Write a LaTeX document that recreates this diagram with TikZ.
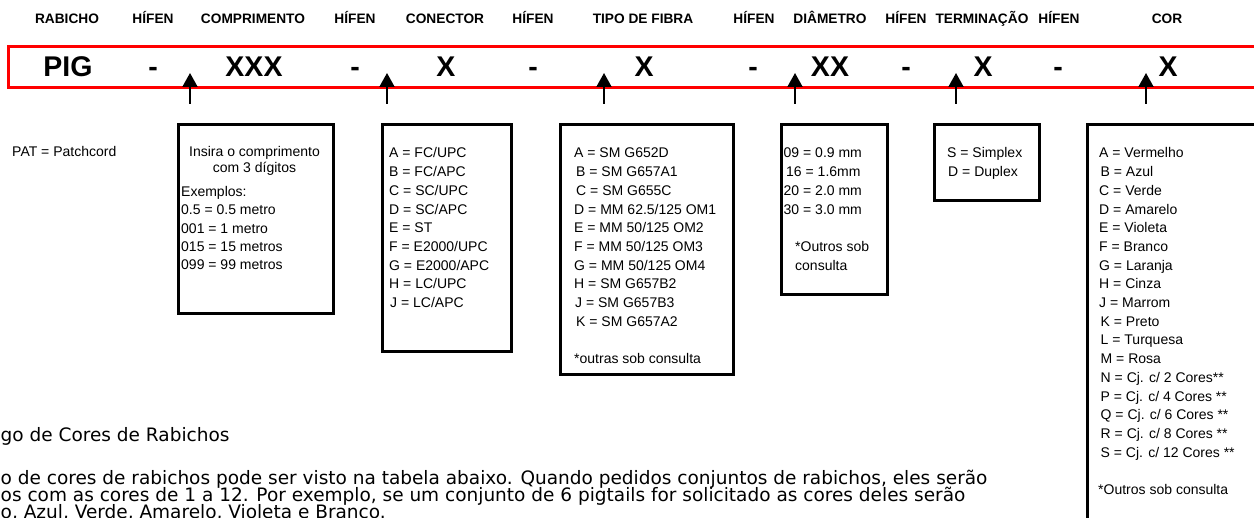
\documentclass[tikz,border=0pt]{standalone}
\usepackage{fontspec}
\setmainfont{Liberation Sans}
\newfontfamily\btext{DejaVu Sans}
\usetikzlibrary{arrows.meta}
\begin{document}
\begin{tikzpicture}[x=1pt,y=-1pt,
  hdr/.style={font=\fontsize{13.7}{16}\selectfont\bfseries, anchor=base, inner sep=0},
  code/.style={font=\fontsize{28.5}{32}\selectfont\bfseries, anchor=base, inner sep=0},
  txt/.style={font=\fontsize{14}{17}\selectfont, anchor=base west, inner sep=0},
  txtc/.style={txt, anchor=base},
  box/.style={draw, line width=3.3pt, anchor=north west, inner sep=0},
  arr/.style={line width=2pt, -{Triangle[width=15pt,length=14pt]}},
  para/.style={font=\btext\fontsize{18.5}{22}\selectfont, anchor=base west, inner sep=0}
]
\useasboundingbox (0,0) rectangle (1254,518);
\clip (0,0) rectangle (1254,518);
% headers
\node[hdr] (h1) at (67,23.5) {RABICHO};
\node[hdr] (h2) at (153,23.5) {HÍFEN};
\node[hdr] (h3) at (253,23.5) {COMPRIMENTO};
\node[hdr] (h4) at (355,23.5) {HÍFEN};
\node[hdr] (h5) at (445,23.5) {CONECTOR};
\node[hdr] (h6) at (533,23.5) {HÍFEN};
\node[hdr] (h7) at (643,23.5) {TIPO DE FIBRA};
\node[hdr] (h8) at (754,23.5) {HÍFEN};
\node[hdr] (h9) at (830,23.5) {DIÂMETRO};
\node[hdr] (h10) at (906,23.5) {HÍFEN};
\node[hdr] (h11) at (982,23.5) {TERMINAÇÃO};
\node[hdr] (h12) at (1059,23.5) {HÍFEN};
\node[hdr] (h13) at (1167,23.5) {COR};
% red bar
\node[draw=red, line width=3pt, anchor=north west, minimum width=1300pt, minimum height=41pt, inner sep=0] (bar) at (7,45.5) {};
\node[code] (c1) at (68,76.5) {PIG};
\node[code] (c2) at (153,76.5) {-};
\node[code] (c3) at (254,76.5) {XXX};
\node[code] (c4) at (355,76.5) {-};
\node[code] (c5) at (446,76.5) {X};
\node[code] (c6) at (533,76.5) {-};
\node[code] (c7) at (644,76.5) {X};
\node[code] (c8) at (753,76.5) {-};
\node[code] (c9) at (830,76.5) {XX};
\node[code] (c10) at (906,76.5) {-};
\node[code] (c11) at (983,76.5) {X};
\node[code] (c12) at (1058,76.5) {-};
\node[code] (c13) at (1168,76.5) {X};
% arrows
\foreach \x [count=\i] in {190,387,604,795,956,1146}{
  \coordinate (as\i) at (\x,104);
  \coordinate (ae\i) at (\x,73);
  \draw[arr] (as\i) -- (ae\i);
}
% PAT
\node[txt] (pat) at (12,157) {PAT = Patchcord};
% box 1
\node[box, minimum width=155pt, minimum height=189pt] (b1) at (177,123) {};
\node[txtc] (b1a) at (254.5,157) {Insira o comprimento};
\node[txtc] (b1b) at (254.5,173) {com 3 dígitos};
\node[txt] (b1c) at (181,197) {Exemplos:};
\node[txt] (b1d) at (181,215) {0.5 = 0.5 metro};
\node[txt] (b1e) at (181,233.5) {001 = 1 metro};
\node[txt] (b1f) at (181,252) {015 = 15 metros};
\node[txt] (b1g) at (181,270) {099 = 99 metros};
% box 2
\node[box, minimum width=129pt, minimum height=227pt] (b2) at (381,123) {};
\node[txt] (b2l1) at (389,158) {A = FC/UPC};
\node[txt] (b2l2) at (389,176.7) {B = FC/APC};
\node[txt] (b2l3) at (389,195.4) {C = SC/UPC};
\node[txt] (b2l4) at (389,214.1) {D = SC/APC};
\node[txt] (b2l5) at (389,232.8) {E = ST};
\node[txt] (b2l6) at (389,251.5) {F = E2000/UPC};
\node[txt] (b2l7) at (389,270.2) {G = E2000/APC};
\node[txt] (b2l8) at (389,288.9) {H = LC/UPC};
\node[txt] (b2l9) at (390,307.6) {J = LC/APC};
% box 3
\node[box, minimum width=173pt, minimum height=250pt] (b3) at (559,123) {};
\node[txt] (b3l1) at (574,158) {A = SM G652D};
\node[txt] (b3l2) at (576,176.7) {B = SM G657A1};
\node[txt] (b3l3) at (576,195.4) {C = SM G655C};
\node[txt] (b3l4) at (574,214.1) {D = MM 62.5/125 OM1};
\node[txt] (b3l5) at (574,232.8) {E = MM 50/125 OM2};
\node[txt] (b3l6) at (574,251.5) {F = MM 50/125 OM3};
\node[txt] (b3l7) at (574,270.2) {G = MM 50/125 OM4};
\node[txt] (b3l8) at (574,288.9) {H = SM G657B2};
\node[txt] (b3l9) at (575,307.6) {J = SM G657B3};
\node[txt] (b3l10) at (576,326.3) {K = SM G657A2};
\node[txt] (b3n) at (574,363.7) {*outras sob consulta};
% box 4
\node[box, minimum width=106pt, minimum height=170pt] (b4) at (780,123) {};
\node[txt] (b4a) at (783.5,158) {09 = 0.9 mm};
\node[txt] (b4b) at (786,176.7) {16 = 1.6mm};
\node[txt] (b4c) at (783.5,195.4) {20 = 2.0 mm};
\node[txt] (b4d) at (783.5,214.1) {30 = 3.0 mm};
\node[txt] (b4e) at (795,251.5) {*Outros sob};
\node[txt] (b4f) at (795,270.2) {consulta};
% box 5
\node[box, minimum width=105pt, minimum height=76pt] (b5) at (933,123) {};
\node[txt] (b5a) at (947,158) {S = Simplex};
\node[txt] (b5b) at (948,176.7) {D = Duplex};
% box 6
\node[box, minimum width=200pt, minimum height=420pt] (b6) at (1086,123) {};
\node[txt] (b6l1) at (1099,158) {A = Vermelho};
\node[txt] (b6l2) at (1100.5,176.7) {B = Azul};
\node[txt] (b6l3) at (1099,195.4) {C = Verde};
\node[txt] (b6l4) at (1099,214.1) {D = Amarelo};
\node[txt] (b6l5) at (1099,232.8) {E = Violeta};
\node[txt] (b6l6) at (1099,251.5) {F = Branco};
\node[txt] (b6l7) at (1099,270.2) {G = Laranja};
\node[txt] (b6l8) at (1099,288.9) {H = Cinza};
\node[txt] (b6l9) at (1099,307.6) {J = Marrom};
\node[txt] (b6l10) at (1100.5,326.3) {K = Preto};
\node[txt] (b6l11) at (1100.5,345) {L = Turquesa};
\node[txt] (b6l12) at (1100.5,363.7) {M = Rosa};
\node[txt] (b6l13) at (1100.5,382.4) {N = Cj. c/ 2 Cores**};
\node[txt] (b6l14) at (1100.5,401.1) {P = Cj. c/ 4 Cores **};
\node[txt] (b6l15) at (1100.5,419.8) {Q = Cj. c/ 6 Cores **};
\node[txt] (b6l16) at (1100.5,438.5) {R = Cj. c/ 8 Cores **};
\node[txt] (b6l17) at (1100.5,457.2) {S = Cj. c/ 12 Cores **};
\node[txt] (b6n) at (1098,494.6) {*Outros sob consulta};
% bottom paragraph
\node[para] (p0) at (0.5,441.7) {go de Cores de Rabichos};
\node[para] (p1) at (0.5,485) {o de cores de rabichos pode ser visto na tabela abaixo. Quando pedidos conjuntos de rabichos, eles serão};
\node[para] (p2) at (0.5,501.7) {os com as cores de 1 a 12. Por exemplo, se um conjunto de 6 pigtails for solicitado as cores deles serão};
\node[para] (p3) at (0.5,518.4) {o, Azul, Verde, Amarelo, Violeta e Branco.};
\end{tikzpicture}
\end{document}
